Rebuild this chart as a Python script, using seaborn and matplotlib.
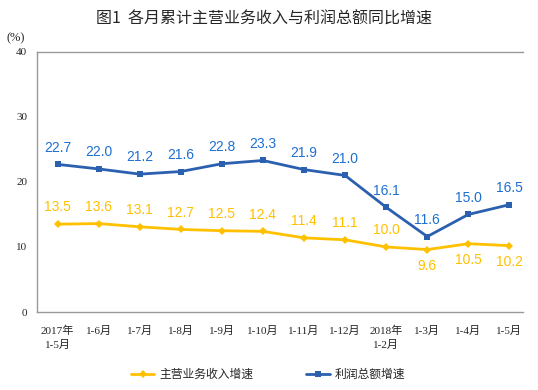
import numpy as np
import pandas as pd
import seaborn as sns
import matplotlib.pyplot as plt

# data
months = ['2017年\n1-5月', '1-6月', '1-7月', '1-8月', '1-9月', '1-10月', '1-11月',
          '1-12月', '2018年\n1-2月', '1-3月', '1-4月', '1-5月']
revenue = [13.5, 13.6, 13.1, 12.7, 12.5, 12.4, 11.4, 11.1, 10.0, 9.6, 10.5, 10.2]
profit = [22.7, 22.0, 21.2, 21.6, 22.8, 23.3, 21.9, 21.0, 16.1, 11.6, 15.0, 16.5]
rev_below = [False] * 9 + [True, True, True]

sns.set_style("white")
plt.rcParams['font.family'] = ['Noto Sans CJK SC', 'DejaVu Sans']

yellow = '#FFC000'
blue = '#2B60B0'
blue_txt = '#1E6FD2'

pos = np.arange(len(months))
df = pd.DataFrame({'pos': pos, 'revenue': revenue, 'profit': profit})

fig = plt.figure(figsize=(5.38, 3.9), dpi=100)
ax = fig.add_axes([0.0688, 0.2, 0.9033, 0.667])

sns.lineplot(data=df, x='pos', y='revenue', ax=ax, color=yellow, marker='D',
             markersize=4, markeredgewidth=0, linewidth=2, label='主营业务收入增速')
sns.lineplot(data=df, x='pos', y='profit', ax=ax, color=blue, marker='s',
             markersize=4.5, markeredgewidth=0, linewidth=2, label='利润总额增速')

# data labels
for i in range(len(months)):
    ax.annotate(f'{profit[i]:.1f}', (pos[i], profit[i]), xytext=(0, 7),
                textcoords='offset points', ha='center', va='bottom',
                color=blue_txt, fontsize=10, family='Liberation Sans')
    off = -7 if rev_below[i] else 7
    ax.annotate(f'{revenue[i]:.1f}', (pos[i], revenue[i]), xytext=(0, off),
                textcoords='offset points', ha='center',
                va='top' if rev_below[i] else 'bottom',
                color=yellow, fontsize=10, family='Liberation Sans')

ax.set_xlim(-0.5, 11.33)
ax.set_ylim(0, 40)
ax.set_yticks([0, 10, 20, 30, 40])
ax.set_yticklabels(['0', '10', '20', '30', '40'], family='Liberation Serif', fontsize=8)
ax.set_xticks(pos)
ax.set_xticklabels(months, fontsize=8, family=['Liberation Serif', 'Noto Sans CJK SC'],
                   linespacing=1.4, va='top')
ax.set_xticks(np.arange(-0.5, 11.0, 1), minor=True)
ax.tick_params(axis='x', which='major', length=0, pad=10)
ax.tick_params(axis='x', which='minor', direction='in', length=3, color='#888888')
ax.tick_params(axis='y', direction='in', length=3, color='#888888', pad=7)
ax.set_xlabel('')
ax.set_ylabel('')

for s in ['left', 'bottom', 'top']:
    ax.spines[s].set_color('#999999')
    ax.spines[s].set_linewidth(1)
ax.spines['right'].set_visible(False)

fig.text(0.49, 0.952, '图1  各月累计主营业务收入与利润总额同比增速', ha='center', va='center',
         fontsize=11.5)
fig.text(0.013, 0.902, '(%)', fontsize=9, family=['Liberation Serif'], va='center')

ax.legend(loc='upper center', bbox_to_anchor=(0.475, -0.175), ncol=2, frameon=False,
          fontsize=8.5, handlelength=2.0, handletextpad=0.4, columnspacing=4.5)

fig.savefig('out.png', dpi=100)
